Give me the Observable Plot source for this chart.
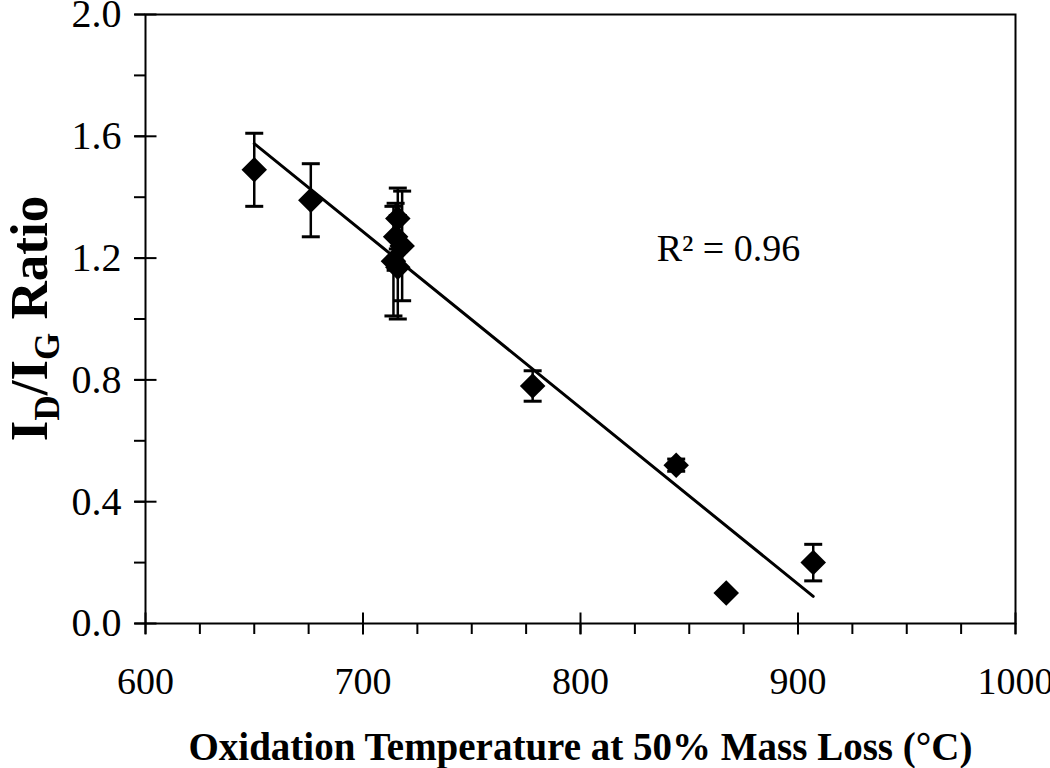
<!DOCTYPE html>
<html>
<head>
<meta charset="utf-8">
<script src="https://cdn.jsdelivr.net/npm/d3@7"></script>
<script src="https://cdn.jsdelivr.net/npm/@observablehq/plot@0.6"></script>
<style>
  html, body { margin: 0; padding: 0; background: #fff; }
</style>
</head>
<body>
<div id="chart"></div>
<script>
// ---- data ----
const temps  = [650, 676, 716, 715, 718, 714, 716, 778, 844, 867, 907];
const ratios = [1.49, 1.39, 1.33, 1.27, 1.24, 1.19, 1.17, 0.78, 0.52, 0.10, 0.20];
const errors = [0.12, 0.12, 0.10, 0.11, 0.18, 0.18, 0.17, 0.05, 0.02, 0.00, 0.06];

// linear trend line endpoints
const trendX = [650, 907];
const trendY = [1.576, 0.089];

const xMajor = [600, 700, 800, 900, 1000];
const xMinor = [600, 625, 650, 675, 700, 725, 750, 775, 800, 825, 850, 875, 900, 925, 950, 975, 1000];
const yMajor = [0.0, 0.4, 0.8, 1.2, 1.6, 2.0];
const yMinor = [0.0, 0.2, 0.4, 0.6, 0.8, 1.0, 1.2, 1.4, 1.6, 1.8, 2.0];

const r2Label = "R² = 0.96";
const xTitle = "Oxidation Temperature at 50% Mass Loss (°C)";

// ---- tables built from arrays ----
const points = temps.map((t, i) => ({x: t, y: ratios[i], e: errors[i]}));
const withErr = points.filter(d => d.e > 0);
const trend = trendX.map((t, i) => ({x: t, y: trendY[i]}));

// custom symbols
const hline = (w) => ({draw(ctx) { ctx.moveTo(-w, 0); ctx.lineTo(w, 0); }});
const vline = (h) => ({draw(ctx) { ctx.moveTo(0, -h); ctx.lineTo(0, h); }});

const FONT = "'Liberation Serif', 'Times New Roman', serif";
const W = 1050, H = 768, ML = 145, MR = 35, MT = 14, MB = 145;

const yTitleMark = (index, scales, values, dims) => {
  const cy = (dims.marginTop + (dims.height - dims.marginBottom)) / 2;
  const t = d3.create("svg:text")
    .attr("transform", `translate(47,${cy}) rotate(-90)`)
    .attr("text-anchor", "middle")
    .attr("font-family", FONT)
    .attr("font-weight", "bold")
    .attr("font-size", 53)
    .attr("fill", "black");
  t.append("tspan").text("I");
  t.append("tspan").attr("font-size", 35).attr("dy", 12).text("D");
  t.append("tspan").attr("dy", -12).text("/I");
  t.append("tspan").attr("font-size", 35).attr("dy", 12).text("G");
  t.append("tspan").attr("dy", -12).text(" Ratio");
  return t.node();
};

const chart = Plot.plot({
  width: W, height: H,
  marginLeft: ML, marginRight: MR, marginTop: MT, marginBottom: MB,
  style: {fontFamily: FONT, fontSize: "38px", color: "black", background: "white", overflow: "visible"},
  x: {domain: [600, 1000]},
  y: {domain: [0, 2]},
  marks: [
    Plot.axisX({ticks: xMinor, tickSize: 11, tickPadding: 33, strokeWidth: 2,
      tickFormat: d => xMajor.includes(d) ? String(d) : "", label: null, fontSize: 38}),
    Plot.axisY({ticks: yMinor, tickSize: 11, tickPadding: 13, strokeWidth: 2,
      tickFormat: d => yMajor.some(m => Math.abs(m - d) < 1e-9) ? d.toFixed(1) : "", label: null, fontSize: 40}),
    // inward halves of the major ticks
    Plot.dot(xMajor, {x: d => d, y: () => 0, symbol: vline(11), stroke: "black", strokeWidth: 2, fill: "none"}),
    Plot.dot(yMajor, {x: () => 600, y: d => d, symbol: hline(11), stroke: "black", strokeWidth: 2, fill: "none"}),
    Plot.frame({stroke: "black", strokeWidth: 2}),
    // trend line
    Plot.line(trend, {x: "x", y: "y", stroke: "black", strokeWidth: 3}),
    // error bars
    Plot.ruleX(withErr, {x: "x", y1: d => d.y - d.e, y2: d => d.y + d.e, stroke: "black", strokeWidth: 2.5}),
    Plot.dot(withErr, {x: "x", y: d => d.y - d.e, symbol: hline(9), stroke: "black", strokeWidth: 3, fill: "none"}),
    Plot.dot(withErr, {x: "x", y: d => d.y + d.e, symbol: hline(9), stroke: "black", strokeWidth: 3, fill: "none"}),
    // points
    Plot.dot(points, {x: "x", y: "y", symbol: "diamond2", r: 11.5, fill: "black", stroke: "none"}),
    // R^2 annotation
    Plot.text([r2Label], {x: () => 835, y: () => 1.232, text: d => d, textAnchor: "start", fontSize: 38, fill: "black"}),
    // x title
    Plot.text([xTitle], {frameAnchor: "bottom", dy: 124, text: d => d, fontWeight: "bold", fontSize: 39, lineAnchor: "middle", fill: "black"}),
    yTitleMark
  ]
});
document.getElementById("chart").append(chart);
</script>
</body>
</html>
